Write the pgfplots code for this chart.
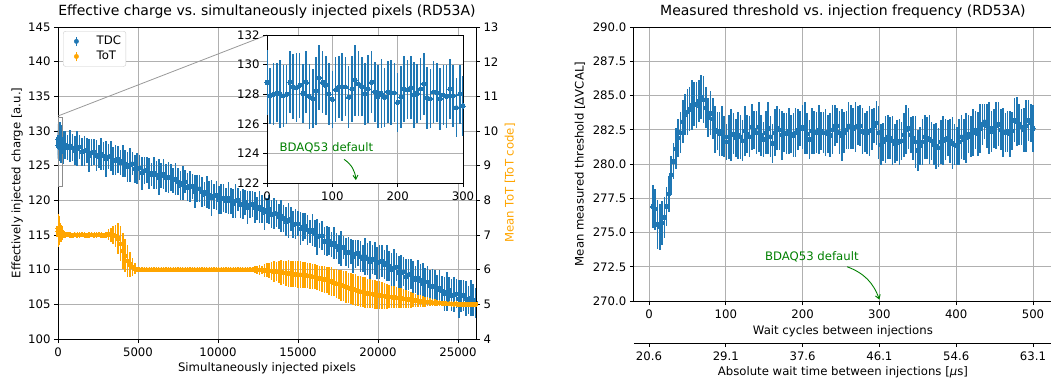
\documentclass[border=0pt]{standalone}
\usepackage{fontspec}
\setmainfont{DejaVu Sans}
\usepackage{pgfplots}
\usepackage{pgfplotstable}
\pgfplotsset{compat=1.18}
\usetikzlibrary{arrows.meta}
\definecolor{mplblue}{HTML}{1F77B4}
\definecolor{mplorange}{HTML}{FFA500}
\definecolor{mplgreen}{HTML}{008000}
\definecolor{gridgray}{HTML}{B0B0B0}

\pgfplotstableread{
x tdc tdce tot tote
0 128.8 2.2 7.20 0.40
5 127.9 1.9 7.10 0.30
10 128.0 2.1 7.05 0.35
15 128.1 2.0 7.15 0.25
20 128.0 2.3 7.10 0.30
25 127.9 2.1 7.00 0.35
30 128.0 2.0 7.20 0.30
35 128.8 2.1 7.10 0.25
40 128.5 2.2 7.05 0.30
45 128.45 2.3 7.15 0.35
50 128.6 2.2 7.10 0.20
55 128.05 2.0 7.00 0.30
60 128.8 2.1 7.15 0.25
65 127.85 2.2 7.10 0.30
70 127.7 2.0 7.05 0.25
75 128.2 2.3 7.10 0.30
80 129.1 2.2 7.20 0.35
85 128.8 2.1 7.10 0.25
90 128.6 2.0 7.05 0.30
95 128.0 2.1 7.10 0.20
100 127.65 1.9 7.00 0.25
105 128.3 2.2 7.15 0.30
110 128.5 2.1 7.10 0.25
115 128.5 2.3 7.05 0.20
120 128.5 2.0 7.10 0.25
125 127.8 2.1 7.05 0.20
130 128.35 2.2 7.10 0.25
135 128.95 2.4 7.15 0.20
140 128.7 2.2 7.10 0.20
145 128.5 2.0 7.05 0.25
150 128.0 2.1 7.10 0.20
155 128.35 2.3 7.05 0.15
160 128.8 2.1 7.10 0.20
165 128.15 2.0 7.05 0.15
170 127.85 2.1 7.00 0.20
175 128.05 2.3 7.05 0.15
180 127.8 2.0 7.10 0.20
185 128.15 2.1 7.05 0.15
190 128.1 2.2 7.00 0.15
195 128.1 2.0 7.05 0.20
200 127.45 2.0 7.00 0.15
205 127.8 2.1 7.05 0.15
210 128.35 2.2 7.10 0.20
215 128.3 2.0 7.05 0.15
220 128.45 2.1 7.00 0.15
225 127.95 2.2 7.05 0.15
230 128.05 2.0 7.00 0.10
235 128.35 2.1 7.05 0.15
240 128.7 2.1 7.10 0.15
245 127.75 2.1 7.05 0.10
250 127.7 2.0 7.00 0.15
255 128.15 2.1 7.05 0.10
260 128.1 2.0 7.00 0.15
265 127.7 2.1 7.05 0.10
270 127.95 2.0 7.00 0.10
275 127.85 2.1 7.05 0.15
280 128.35 2.0 7.00 0.10
285 127.9 2.1 7.05 0.10
290 127.1 2.0 7.00 0.10
295 128.0 2.0 7.05 0.10
300 127.2 2.0 7.00 0.10
450 128.0 2.0 7.00 0.10
600 127.6 1.8 7.02 0.08
750 127.9 2.3 7.00 0.07
900 127.6 1.9 6.99 0.08
1050 127.2 2.1 7.01 0.06
1200 127.5 2.5 7.00 0.07
1350 127.7 1.7 7.00 0.06
1500 127.0 2.0 7.01 0.07
1650 127.1 2.2 7.00 0.06
1800 127.2 1.8 6.99 0.07
1950 126.5 2.4 7.00 0.08
2100 126.9 2.0 7.01 0.06
2250 127.0 1.9 7.00 0.07
2400 126.5 2.2 7.00 0.06
2550 126.3 1.7 7.01 0.07
2700 126.7 2.3 7.00 0.06
2850 126.4 2.0 6.99 0.07
3000 126.0 2.6 7.00 0.08
3150 126.3 1.8 7.02 0.15
3300 126.4 2.1 7.01 0.20
3450 125.7 2.0 7.00 0.25
3600 125.8 2.2 6.97 0.32
3750 125.9 2.0 6.90 0.45
3900 125.4 1.8 6.75 0.50
4050 125.7 2.3 6.55 0.52
4200 125.3 1.9 6.40 0.48
4350 124.8 2.1 6.25 0.45
4500 125.1 2.5 6.15 0.35
4650 125.3 1.7 6.08 0.25
4800 124.5 2.0 6.03 0.15
4950 124.6 2.2 6.01 0.08
5100 124.7 1.8 6.00 0.04
5250 123.9 2.4 6.00 0.03
5400 124.3 2.0 6.00 0.04
5550 124.4 1.9 6.00 0.03
5700 123.9 2.2 6.00 0.02
5850 123.7 1.7 6.00 0.03
6000 124.0 2.3 6.00 0.04
6150 123.7 2.0 6.00 0.02
6300 123.3 2.6 6.00 0.03
6450 123.6 1.8 6.00 0.02
6600 123.8 2.1 6.00 0.03
6750 123.2 2.0 6.00 0.02
6900 123.3 2.2 6.00 0.03
7050 123.3 2.0 6.00 0.02
7200 122.9 1.8 6.00 0.03
7350 123.1 2.3 6.00 0.02
7500 122.7 1.9 6.00 0.03
7650 122.2 2.1 6.00 0.02
7800 122.5 2.5 6.00 0.03
7950 122.7 1.7 6.00 0.02
8100 121.9 2.0 6.00 0.03
8250 122.0 2.2 6.00 0.02
8400 122.0 1.8 6.00 0.04
8550 121.3 2.4 6.00 0.02
8700 121.7 2.0 6.00 0.03
8850 121.7 1.9 6.00 0.02
9000 121.2 2.2 6.00 0.06
9150 120.9 1.7 6.00 0.02
9300 121.2 2.3 6.00 0.03
9450 120.8 2.0 6.00 0.02
9600 120.4 2.6 6.00 0.03
9750 120.6 1.8 6.00 0.02
9900 120.7 2.1 6.00 0.03
10050 120.1 2.0 6.00 0.02
10200 120.2 2.2 6.00 0.03
10350 120.3 2.0 6.00 0.02
10500 120.0 1.8 6.00 0.03
10650 120.3 2.3 6.00 0.02
10800 119.9 1.9 6.00 0.03
10950 119.5 2.1 6.00 0.06
11100 119.9 2.5 6.00 0.02
11250 120.1 1.7 6.00 0.03
11400 119.4 2.0 6.00 0.02
11550 119.5 2.2 6.00 0.03
11700 119.7 1.8 6.00 0.02
11850 119.0 2.4 6.00 0.04
12000 119.4 2.0 6.00 0.06
12150 119.5 1.9 6.00 0.08
12300 119.0 2.2 6.01 0.10
12450 118.8 1.7 6.00 0.12
12600 119.0 2.3 5.99 0.15
12750 118.7 2.0 6.00 0.12
12900 118.3 2.6 5.98 0.18
13050 118.6 1.8 6.00 0.20
13200 118.7 2.1 5.97 0.22
13350 118.0 2.0 5.96 0.25
13500 118.1 2.2 5.95 0.30
13650 118.1 2.0 5.94 0.28
13800 117.6 1.8 5.93 0.32
13950 117.8 2.3 5.92 0.35
14100 117.4 1.9 5.91 0.33
14250 116.9 2.1 5.90 0.36
14400 117.1 2.5 5.89 0.38
14550 117.3 1.7 5.88 0.37
14700 116.5 2.0 5.88 0.38
14850 116.6 2.2 5.87 0.38
15000 116.6 1.8 5.86 0.39
15150 115.9 2.4 5.86 0.38
15300 116.2 2.0 5.85 0.38
15450 116.3 1.9 5.84 0.38
15600 115.7 2.2 5.83 0.37
15750 115.5 1.7 5.82 0.38
15900 115.7 2.3 5.80 0.37
16050 115.2 2.0 5.79 0.36
16200 114.7 2.6 5.77 0.37
16350 114.9 1.8 5.75 0.36
16500 114.9 2.1 5.74 0.38
16650 114.1 2.0 5.72 0.40
16800 114.1 2.2 5.70 0.38
16950 114.1 2.0 5.68 0.40
17100 113.6 1.8 5.66 0.42
17250 113.8 2.3 5.63 0.40
17400 113.4 1.9 5.60 0.43
17550 112.9 2.1 5.58 0.42
17700 113.1 2.5 5.55 0.44
17850 113.2 1.7 5.53 0.42
18000 112.5 2.0 5.50 0.45
18150 112.5 2.2 5.48 0.43
18300 112.6 1.8 5.46 0.45
18450 111.9 2.4 5.43 0.44
18600 112.3 2.0 5.41 0.46
18750 112.4 1.9 5.39 0.44
18900 111.9 2.2 5.37 0.45
19050 111.6 2.0 5.35 0.43
19200 111.9 2.6 5.34 0.44
19350 111.6 2.3 5.32 0.42
19500 111.2 2.9 5.31 0.43
19650 111.5 2.1 5.30 0.41
19800 111.6 2.4 5.28 0.42
19950 111.0 2.3 5.27 0.40
20100 111.1 2.5 5.26 0.40
20250 111.2 2.3 5.25 0.38
20400 110.7 2.1 5.24 0.37
20550 110.9 2.6 5.23 0.36
20700 110.5 2.2 5.22 0.34
20850 110.0 2.4 5.21 0.33
21000 110.2 2.8 5.20 0.32
21150 110.4 2.0 5.19 0.31
21300 109.6 2.3 5.18 0.30
21450 109.6 2.5 5.17 0.29
21600 109.7 2.1 5.16 0.27
21750 108.9 2.7 5.15 0.26
21900 109.3 2.3 5.14 0.24
22050 109.4 2.2 5.13 0.23
22200 108.8 2.5 5.12 0.21
22350 108.6 2.0 5.11 0.20
22500 108.8 2.6 5.10 0.18
22650 108.5 2.3 5.09 0.17
22800 108.0 2.9 5.08 0.16
22950 108.2 2.1 5.07 0.14
23100 108.2 2.4 5.07 0.13
23250 107.6 2.3 5.06 0.12
23400 107.6 2.5 5.05 0.11
23550 107.6 2.3 5.05 0.10
23700 107.1 2.1 5.04 0.09
23850 107.3 2.6 5.04 0.08
24000 106.9 2.2 5.03 0.07
24150 106.5 2.4 5.03 0.06
24300 106.8 2.8 5.02 0.05
24450 107.0 2.0 5.02 0.05
24600 106.3 2.3 5.01 0.04
24750 106.4 2.5 5.01 0.03
24900 106.5 2.1 5.01 0.03
25050 105.8 2.7 5.00 0.02
25200 106.2 2.3 5.00 0.02
25350 106.3 2.2 5.00 0.02
25500 105.8 2.5 5.00 0.01
25650 105.6 2.0 5.00 0.01
25800 105.9 2.6 5.00 0.01
25950 105.6 2.3 5.00 0.01
26100 105.2 2.2 5.00 0.01
}\maindata

\pgfplotstableread{
x thr err
5 276.9 1.6
8 276.7 1.5
11 275.6 1.8
14 275.4 1.7
17 275.7 1.6
20 276.1 1.5
23 276.9 1.4
26 277.8 1.3
29 279.2 1.4
32 280.2 1.3
35 281.1 1.5
38 281.9 1.4
41 282.3 1.5
44 283.1 1.6
47 283.6 1.5
50 283.8 1.7
53 284.0 1.6
56 284.3 1.8
59 284.4 1.6
62 284.3 1.7
65 284.6 1.5
68 284.9 1.6
71 284.7 1.7
74 284.1 1.5
77 283.4 1.4
80 283.7 1.6
83 283.3 1.5
86 282.5 1.7
89 282.4 1.4
92 282.2 1.6
95 282.4 1.8
98 282.0 1.5
101 281.6 1.3
104 282.0 1.6
107 282.1 1.9
110 282.2 1.5
113 281.9 1.4
116 282.1 1.7
119 282.0 1.6
122 281.7 1.5
125 282.4 1.8
128 282.2 1.4
131 282.0 1.5
134 282.7 1.7
137 282.5 1.4
140 282.3 1.6
143 282.7 1.8
146 282.1 1.5
149 281.8 1.3
152 282.3 1.6
155 282.6 1.9
158 282.0 1.5
161 281.5 1.4
164 282.3 1.7
167 282.6 1.6
170 282.5 1.5
173 282.1 1.8
176 282.3 1.4
179 282.2 1.5
182 282.4 1.7
185 282.2 1.4
188 282.1 1.6
191 282.3 1.8
194 282.5 1.5
197 282.6 1.3
200 282.7 1.6
203 282.6 1.9
206 282.2 1.5
209 281.8 1.4
212 282.4 1.7
215 282.3 1.6
218 282.3 1.5
221 282.5 1.8
224 282.4 1.4
227 282.3 1.5
230 282.3 1.7
233 282.2 1.4
236 282.1 1.6
239 282.5 1.8
242 282.8 1.5
245 282.8 1.3
248 282.3 1.6
251 282.1 1.9
254 282.3 1.5
257 282.5 1.4
260 282.8 1.7
263 282.7 1.6
266 282.6 1.5
269 282.7 1.8
272 282.8 1.4
275 282.8 1.5
278 282.4 1.7
281 282.3 1.4
284 282.3 1.6
287 282.4 1.8
290 282.5 1.5
293 282.8 1.3
296 283.0 1.6
299 282.3 1.9
302 281.4 1.5
305 281.6 1.4
308 281.8 1.7
311 282.0 1.6
314 281.9 1.5
317 281.7 1.8
320 281.5 1.4
323 281.7 1.5
326 281.6 1.7
329 281.7 1.4
332 282.1 1.6
335 282.5 1.8
338 282.6 1.5
341 282.1 1.3
344 281.9 1.6
347 281.6 1.9
350 281.0 1.5
353 281.3 1.4
356 281.6 1.7
359 282.0 1.6
362 281.9 1.5
365 281.8 1.8
368 281.7 1.4
371 281.4 1.5
374 281.3 1.7
377 281.2 1.4
380 281.6 1.6
383 281.7 1.8
386 281.8 1.5
389 281.9 1.3
392 281.7 1.6
395 281.5 1.9
398 281.4 1.5
401 281.3 1.4
404 281.6 1.7
407 282.0 1.6
410 281.8 1.5
413 281.9 1.8
416 282.2 1.4
419 282.0 1.5
422 282.3 1.7
425 282.5 1.4
428 282.2 1.6
431 282.6 1.8
434 282.9 1.5
437 283.1 1.3
440 282.8 1.6
443 282.6 1.9
446 282.4 1.5
449 282.6 1.4
452 282.8 1.7
455 282.9 1.6
458 282.5 1.5
461 282.3 1.8
464 282.3 1.4
467 282.4 1.5
470 282.2 1.7
473 282.4 1.4
476 283.2 1.6
479 283.1 1.8
482 282.9 1.5
485 282.7 1.3
488 282.5 1.6
491 282.8 1.9
494 283.2 1.5
497 283.0 1.4
500 282.6 1.7
}\thrdata

\newcommand{\tickfont}{\fontsize{11.7}{14}\selectfont}
\pgfplotsset{
  mybase/.style={
    scale only axis,
    anchor=south west,
    tick align=outside,
    major tick length=4pt,
    tick style={black, line width=0.9pt},
    axis line style={black, line width=0.9pt},
    tick label style={font=\tickfont},
    xticklabel style={yshift=-1.5pt},
    label style={font=\tickfont},
    title style={font=\fontsize{14}{17}\selectfont},
    every axis title shift=0pt,
    /pgf/number format/assume math mode=true,
    /pgf/number format/1000 sep={},
    scaled ticks=false,
    grid style={gridgray, line width=0.9pt},
  },
  errplot/.style={only marks, mark=*, mark size=2.1pt,
    mark options={line width=0pt, fill=#1, draw=#1}, color=#1,
    error bars/.cd, y dir=both, y explicit, error mark=none,
    error bar style={line width=1.6pt, color=#1}},
}

\begin{document}
\begin{tikzpicture}

% ---------------- left: TDC ----------------
\begin{axis}[mybase, at={(58pt,42pt)}, width=418pt, height=312pt,
  xmin=0, xmax=26125, ymin=100, ymax=145,
  xtick={0,5000,10000,15000,20000,25000}, ytick={100,105,...,145},
  tick pos=left, grid=major,
  title={Effective charge vs.\ simultaneously injected pixels (RD53A)},
  title style={at={(axis description cs:0.5,1)}, anchor=center, yshift=15pt},
  xlabel={Simultaneously injected pixels},
  xlabel style={at={(axis description cs:0.5,0)}, anchor=center, yshift=-29pt},
  ylabel={Effectively injected charge [a.u.]},
  ylabel style={at={(axis description cs:-0.098,0.5)}, anchor=center},
  legend style={at={(axis description cs:0.012,0.987)}, anchor=north west,
    draw=black!20, rounded corners=2.5pt, font=\tickfont,
    inner sep=3pt, row sep=1pt},
  legend cell align=left,
]
\addplot[forget plot, errplot=mplblue] table[x=x, y=tdc, y error=tdce] {\maindata};
\draw[black!45, line width=0.8pt] (axis cs:0,122) rectangle (axis cs:300,132);
\addlegendimage{legend image code/.code={\draw[opacity=0] (-10pt,0pt) -- (18pt,0pt); \draw[mplblue,line width=1.6pt] (0pt,-4.8pt) -- (0pt,4.8pt); \fill[mplblue] (0pt,0pt) circle (2.2pt);}}
\addlegendentry{TDC}
\addlegendimage{legend image code/.code={\draw[opacity=0] (-10pt,0pt) -- (18pt,0pt); \draw[mplorange,line width=1.6pt] (0pt,-4.8pt) -- (0pt,4.8pt); \fill[mplorange] (0pt,0pt) circle (2.2pt);}}
\addlegendentry{ToT}
\end{axis}

% ---------------- left: ToT twin ----------------
\begin{axis}[mybase, at={(58pt,42pt)}, width=418pt, height=312pt,
  xmin=0, xmax=26125, ymin=4, ymax=13,
  axis x line=none, axis y line*=right, y axis line style={-},
  ytick={4,5,...,13},
  ylabel={Mean ToT [ToT code]},
  ylabel style={at={(axis description cs:1.081,0.5)}, anchor=center, text=mplorange},
]
\addplot[errplot=mplorange] table[x=x, y=tot, y error=tote] {\maindata};
\end{axis}

\draw[black!40, line width=0.8pt] (58pt,265pt) -- (267pt,346pt);

% ---------------- inset ----------------
\begin{axis}[mybase, at={(267pt,198pt)}, width=196pt, height=148pt,
  xmin=0, xmax=300, ymin=122, ymax=132,
  xtick={0,100,200,300}, ytick={122,124,...,132},
  tick pos=left, grid=major,
  axis background/.style={fill=white},
]
\addplot[restrict x to domain=-1:301, errplot=mplblue] table[x=x, y=tdc, y error=tdce] {\maindata};
\node[text=mplgreen, font=\tickfont] at (axis cs:91,124.35) {BDAQ53 default};
\draw[mplgreen, line width=0.9pt, -{Straight Barb[length=4pt,width=5pt]}] (axis cs:118,123.6) to[bend left=25] (axis cs:136,122.2);
\end{axis}

% ---------------- right: threshold ----------------
\begin{axis}[mybase, at={(633.8pt,80pt)}, width=418.2pt, height=274pt,
  xmin=-19.75, xmax=524.75, ymin=270, ymax=290,
  xtick={0,100,...,500}, ytick={270,272.5,...,290},
  yticklabel style={/pgf/number format/.cd, fixed, fixed zerofill, precision=1},
  tick pos=left, grid=major,
  title={Measured threshold vs.\ injection frequency (RD53A)},
  title style={at={(axis description cs:0.5,1)}, anchor=center, yshift=15pt},
  xlabel={Wait cycles between injections},
  xlabel style={at={(axis description cs:0.5,0)}, anchor=center, yshift=-30pt},
  ylabel={Mean measured threshold [ΔVCAL]},
  ylabel style={at={(axis description cs:-0.1286,0.5)}, anchor=center},
]
\addplot[errplot=mplblue] table[x=x, y=thr, y error=err] {\thrdata};
\node[text=mplgreen, font=\tickfont] at (axis cs:212,273.2) {BDAQ53 default};
\draw[mplgreen, line width=0.9pt, -{Straight Barb[length=4pt,width=5pt]}] (axis cs:258,272.5) to[bend left=25] (axis cs:300,270.1);
\end{axis}

% ---------------- secondary x axis ----------------
\begin{axis}[mybase, at={(633.8pt,38pt)}, width=418.2pt, height=20pt,
  xmin=-19.75, xmax=524.75, ymin=0, ymax=1,
  axis x line*=bottom, axis y line=none, x axis line style={-},
  xtick={0,100,...,500},
  xticklabels={20.6,29.1,37.6,46.1,54.6,63.1},
  xlabel={Absolute wait time between injections [{\itshape μ}s]},
  xlabel style={at={(axis description cs:0.5,0)}, anchor=center, yshift=-29.7pt},
]
\addplot[draw=none, forget plot] coordinates {(0,0.5) (500,0.5)};
\end{axis}

\pgfresetboundingbox
\useasboundingbox (0,0) rectangle (1051pt,381pt);
\end{tikzpicture}
\end{document}
